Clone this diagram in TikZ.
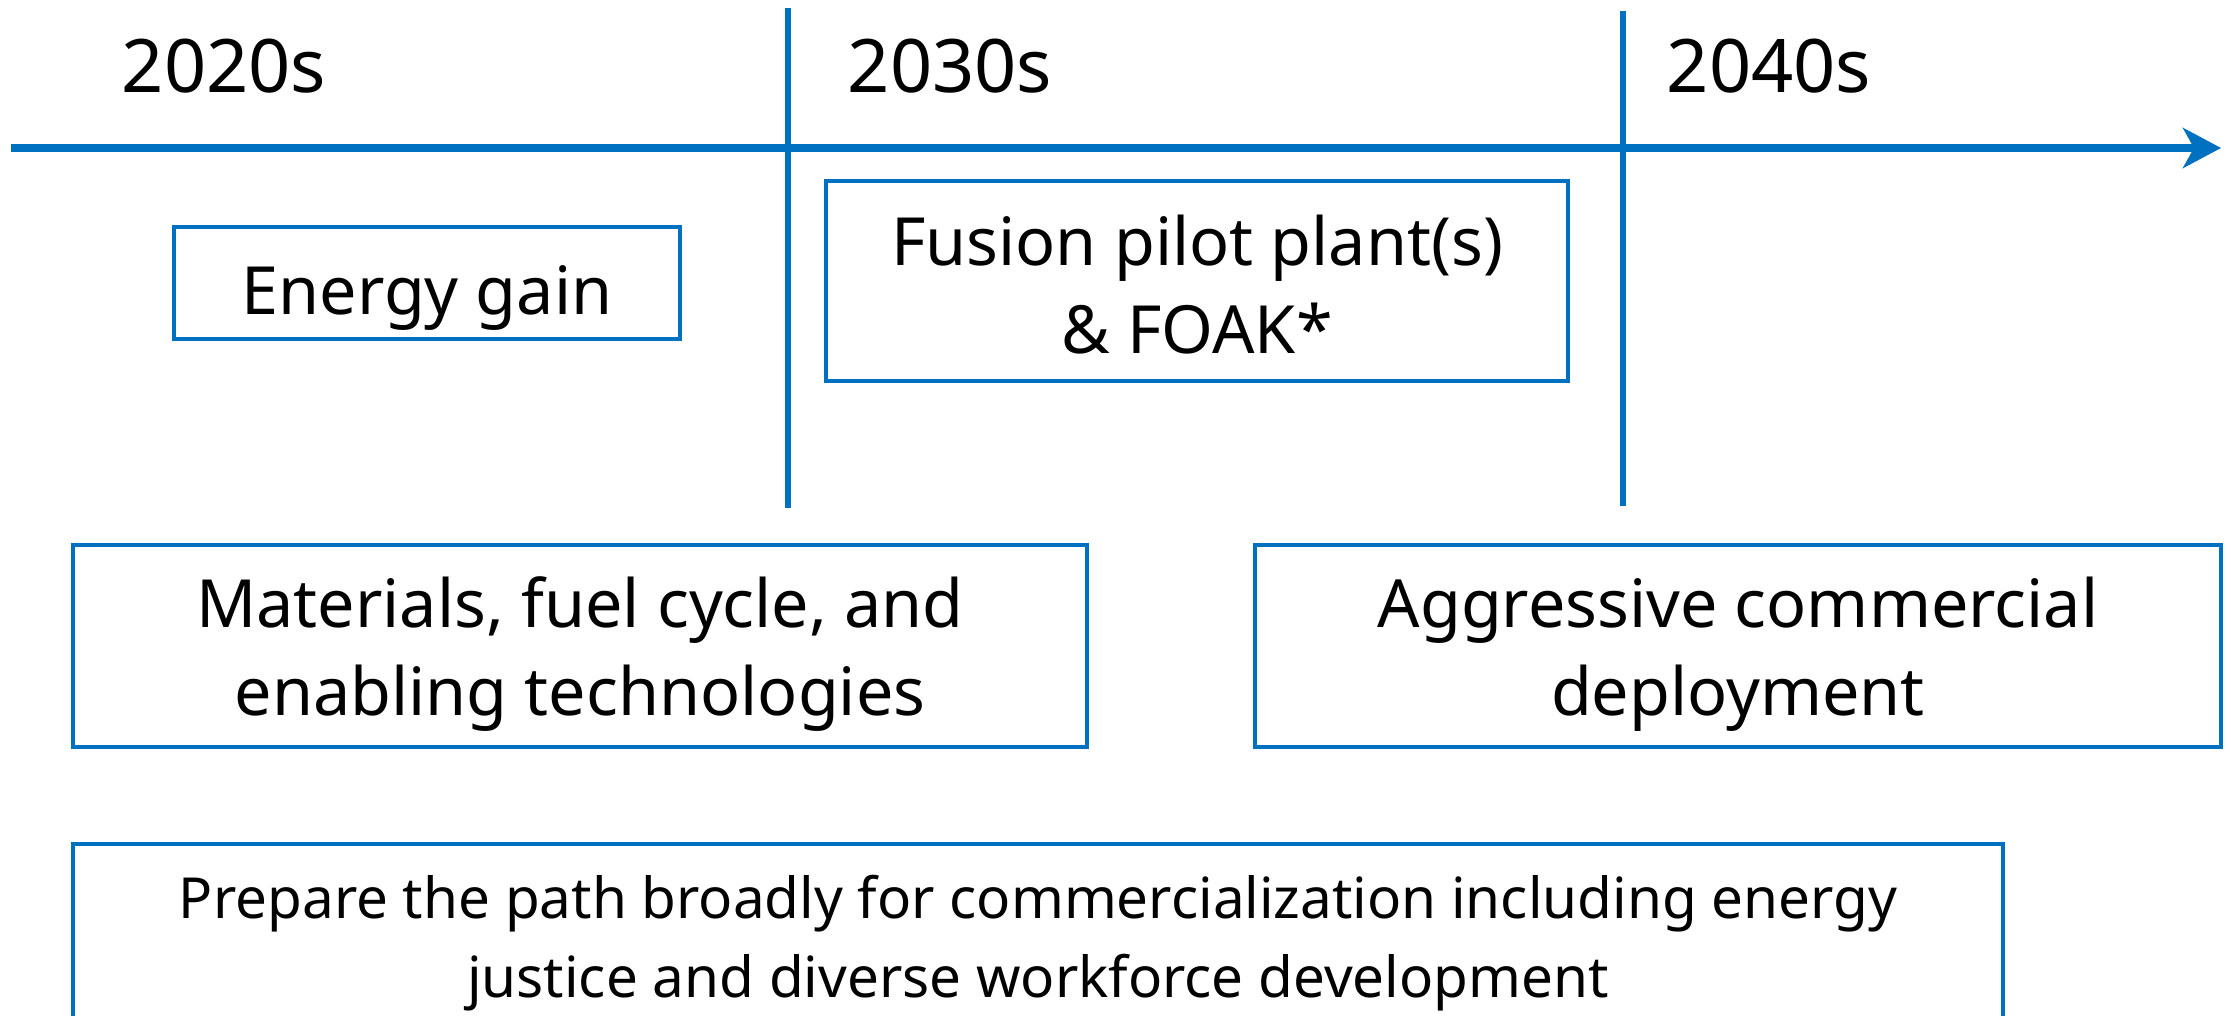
\documentclass[tikz,border=0pt]{standalone}
\usepackage{fontspec}
\setmainfont{Noto Sans}
\usetikzlibrary{arrows.meta}
\definecolor{timeblue}{RGB}{0, 112, 192}
\tikzstyle{phase} = [rectangle, draw=timeblue, line width=1.15pt,
                     align=center, inner sep=0pt, text=black, text depth=0pt,
                     font=\fontsize{18.9}{25}\selectfont]
\tikzstyle{year} = [anchor=base, font=\fontsize{21}{25}\selectfont]
\tikzstyle{divider} = [draw=timeblue, line width=1.8pt]
\tikzstyle{arrow} = [draw=timeblue, line width=2pt,
                     -{Stealth[length=0.38cm, width=0.4cm, inset=0.11cm]}]

\begin{document}
\begin{tikzpicture}[x=0.01cm, y=-0.01cm]
        \clip (0,0) rectangle (2231,1016);
        \fill[white] (0,0) rectangle (2231,1016);

        %Time axis
        \coordinate (axisstart) at (11,148);
        \coordinate (axisend) at (2221,148);
        \draw [arrow] (axisstart) -- (axisend);

        %Decade dividers
        \coordinate (div1top) at (788,8);
        \coordinate (div1bot) at (788,508);
        \draw [divider] (div1top) -- (div1bot);
        \coordinate (div2top) at (1623,11);
        \coordinate (div2bot) at (1623,506);
        \draw [divider] (div2top) -- (div2bot);

        %Decades
        \node at (224,93)(y2020) [year] {2020s};
        \node at (950,93)(y2030) [year] {2030s};
        \node at (1769,93)(y2040) [year] {2040s};

        %Phase boxes
        \node at (427,283)(gain) [phase, minimum width=5.05cm, minimum height=1.11cm] {\raisebox{-2pt}[\height][\depth]{Energy gain}};
        \node at (1197,281)(pilot) [phase, minimum width=7.41cm, minimum height=2cm] {\raisebox{-0.8pt}[\height][\depth]{Fusion pilot plant(s)}\\ \raisebox{-0.8pt}[\height][\depth]{\& FOAK*}};
        \node at (580,646)(materials) [phase, minimum width=10.13cm, minimum height=2.01cm] {Materials, fuel cycle, and\\ enabling technologies};
        \node at (1738,646)(deploy) [phase, minimum width=9.66cm, minimum height=2.01cm] {Aggressive commercial\\ deployment};

        %Broad preparation
        \node at (1038,936)(prepare) [phase, minimum width=19.29cm, minimum height=1.84cm,
              font=\fontsize{16.1}{22.5}\selectfont] {Prepare the path broadly for commercialization including energy\\ justice and diverse workforce development};

\end{tikzpicture}
\end{document}
